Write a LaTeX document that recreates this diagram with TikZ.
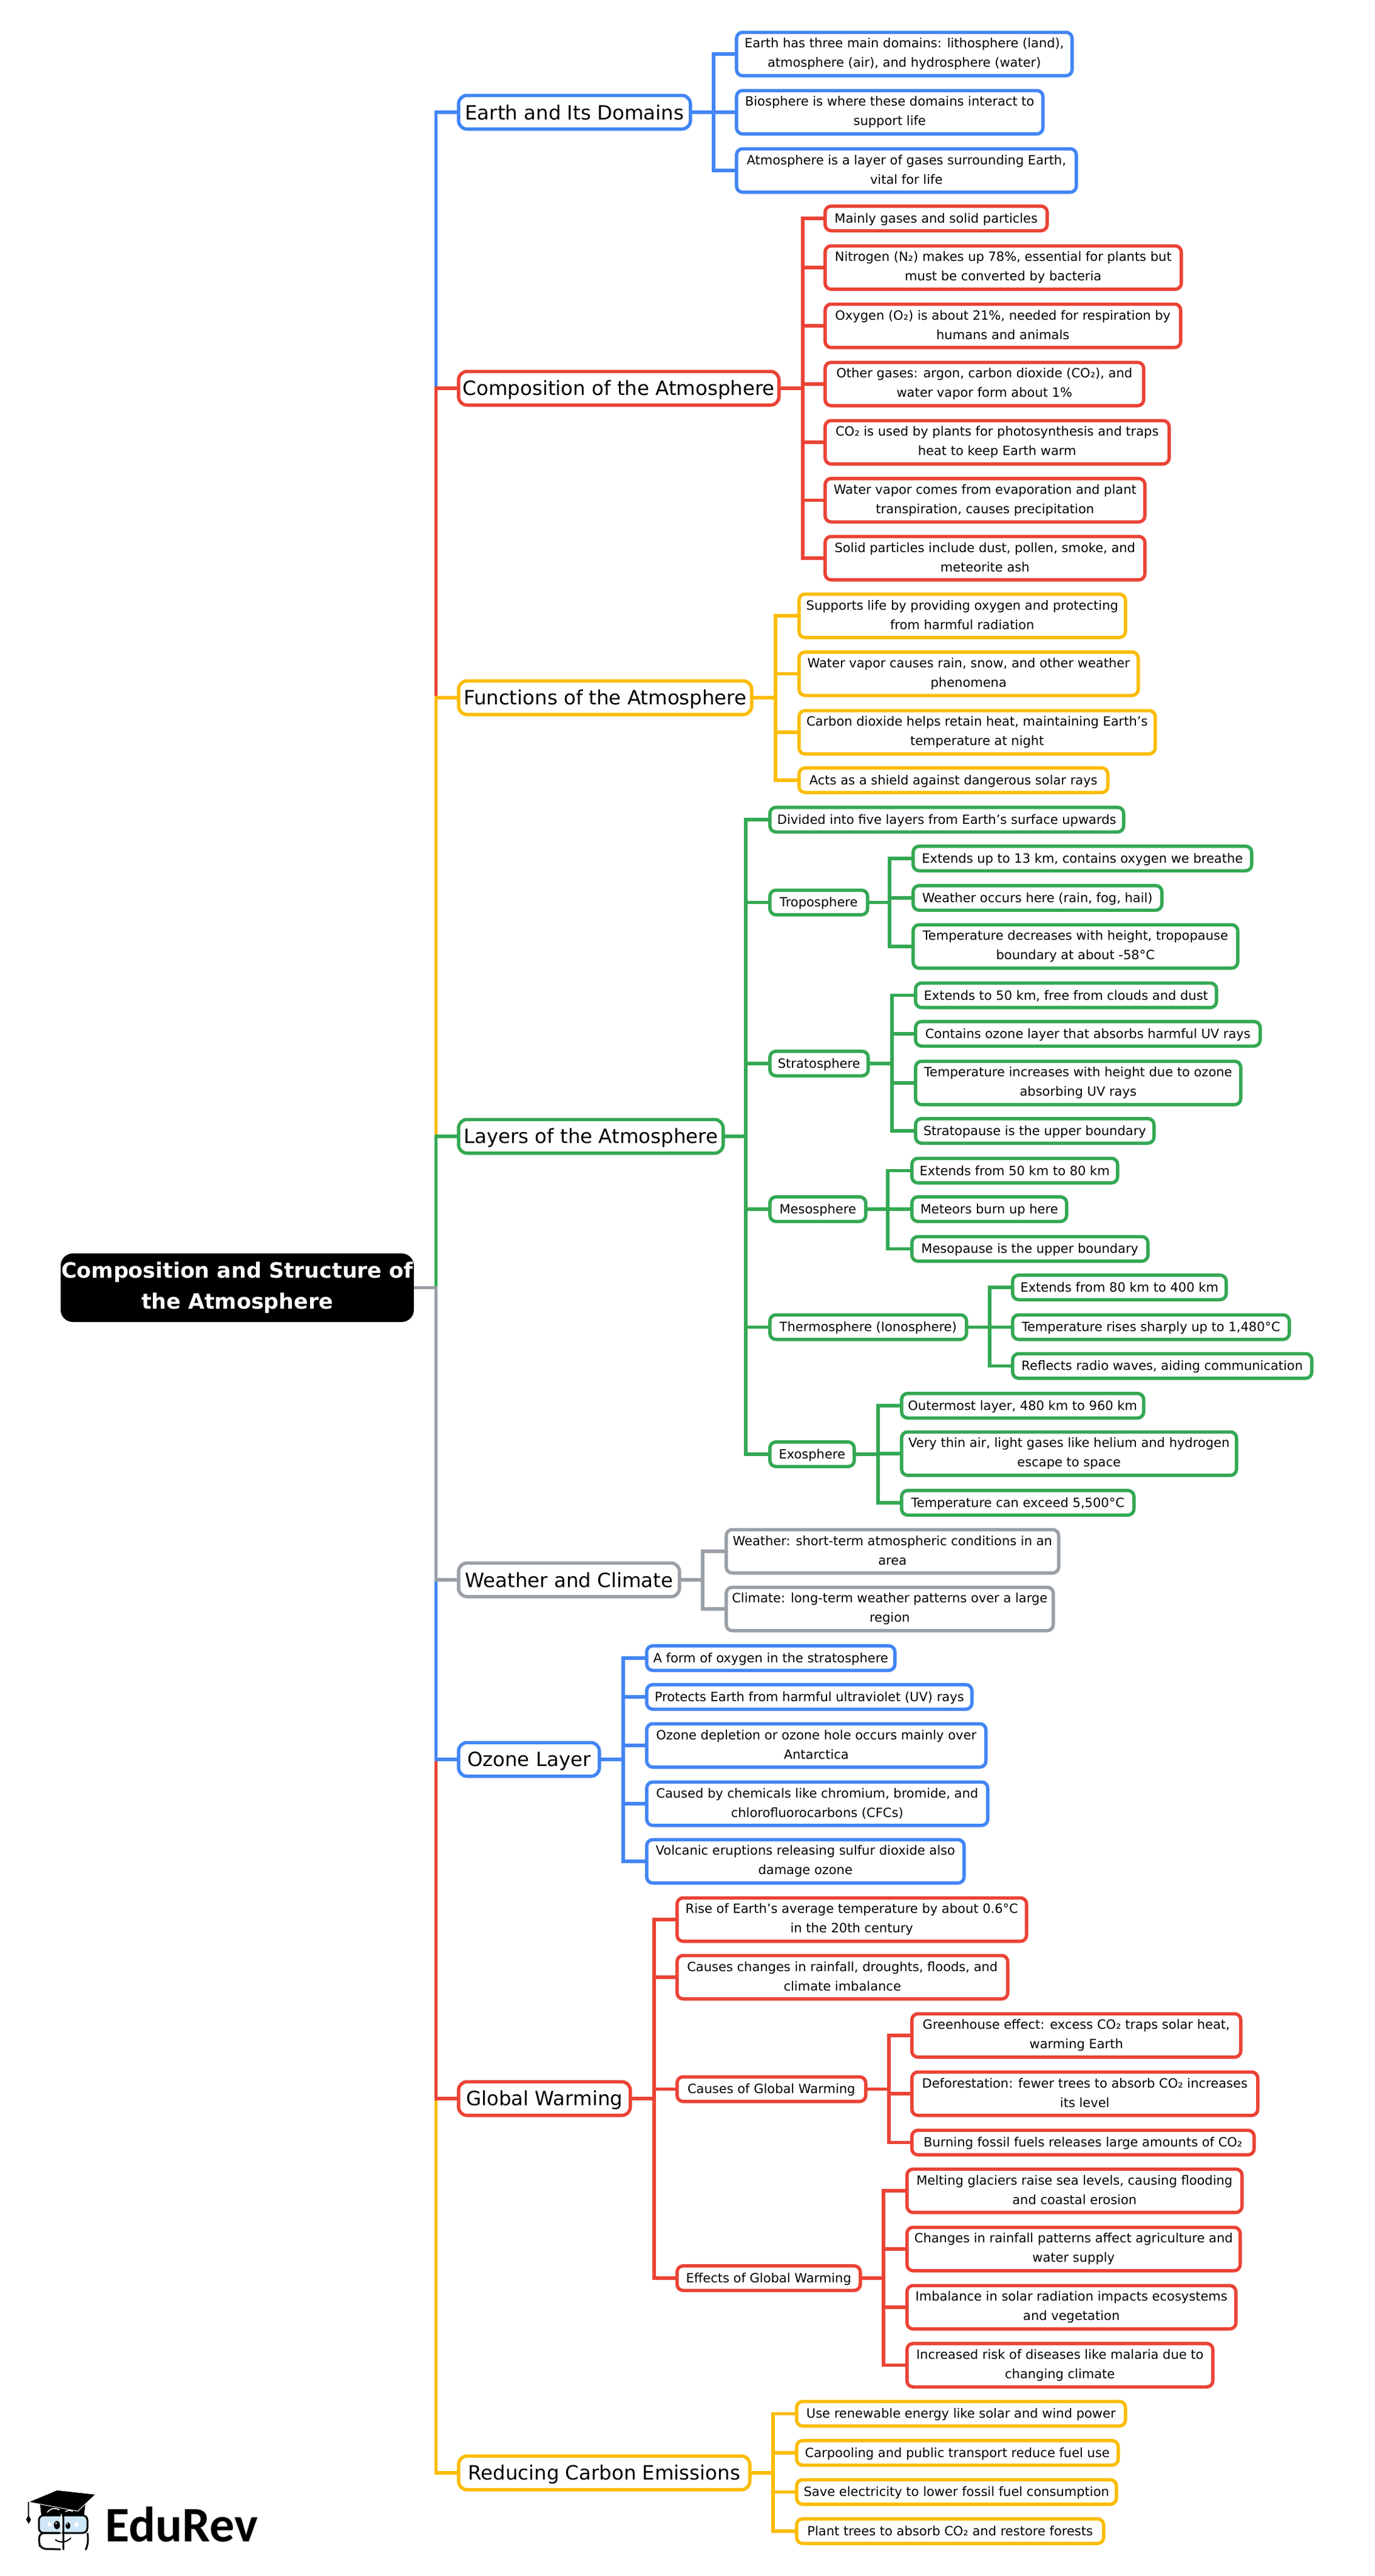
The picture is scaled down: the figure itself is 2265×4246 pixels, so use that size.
\documentclass[tikz,border=0pt]{standalone}
\usepackage{fontspec}
\setmainfont{DejaVu Sans}
\newfontfamily\logofont{Carlito}
\definecolor{cblue}{HTML}{4285F4}
\definecolor{cred}{HTML}{EA4335}
\definecolor{cyel}{HTML}{FBBC04}
\definecolor{cgrn}{HTML}{34A853}
\definecolor{cgry}{HTML}{9AA0A6}
\definecolor{lens}{HTML}{CFE8F7}
\newcommand{\upstrut}{\vrule width 0pt height .9em depth .15em\relax}
\tikzset{
  basebox/.style={draw,fill=white,line width=2.75pt,inner sep=0pt,outer sep=0pt,align=center,text=black,
     execute at begin node=\upstrut,execute at end node=\upstrut},
  topbox/.style={basebox,rounded corners=7pt,minimum height=27.75pt,font=\fontsize{16.2}{23}\selectfont},
  onebox/.style={basebox,rounded corners=5pt,minimum height=20.25pt,font=\fontsize{10.5}{16}\selectfont},
  twobox/.style={basebox,rounded corners=5pt,minimum height=35.75pt,font=\fontsize{10.5}{16}\selectfont},
  rootbox/.style={fill=black,text=white,rounded corners=10pt,inner sep=0pt,outer sep=0pt,align=center,
     font=\fontsize{17.4}{25.85}\selectfont\bfseries,execute at begin node=\upstrut,execute at end node=\upstrut},
  conn/.style={line width=2.75pt,line join=miter}
}
\newcommand{\bx}[7]{%
  \pgfmathsetmacro{\bxw}{(#5-#4-1)*0.5}%
  \pgfmathsetmacro{\bxc}{(#4+#5+0.5)/2}%
  \node[#3,draw=#2,minimum width=\bxw pt] (#1) at (\bxc,#6) {#7};}
\newcommand{\cn}[4]{\draw[conn,#1] (#2.east) -- (#3,0 |- #2.east) |- (#4.west);}
\begin{document}
\begin{tikzpicture}[x=0.5pt,y=-0.5pt]
\useasboundingbox (0,0) rectangle (2265,4246);
\fill[white] (0,0) rectangle (2265,4246);

% root
\node[rootbox,minimum width=291pt,minimum height=56.5pt] (root) at (391,2122.5) {Composition and Structure of\\the Atmosphere};

% level 1
\bx{earth}{cblue}{topbox}{755}{1138}{185}{Earth and Its Domains}
\bx{comp}{cred}{topbox}{755}{1284}{640}{Composition of the Atmosphere}
\bx{func}{cyel}{topbox}{755}{1239}{1150}{Functions of the Atmosphere}
\bx{layers}{cgrn}{topbox}{755}{1192}{1873}{Layers of the Atmosphere}
\bx{wc}{cgry}{topbox}{755}{1120}{2604}{Weather and Climate}
\bx{ozone}{cblue}{topbox}{755}{988}{2900}{Ozone Layer}
\bx{gw}{cred}{topbox}{755}{1039}{3459}{Global Warming}
\bx{rce}{cyel}{topbox}{755}{1236}{4076}{Reducing Carbon Emissions}

% root connectors
\coordinate (trunk) at (718.5,2122.5);
\draw[conn,cblue] (root.east) -- (trunk) |- (earth.west);
\draw[conn,cred] (root.east) -- (trunk) |- (comp.west);
\draw[conn,cyel] (root.east) -- (trunk) |- (func.west);
\draw[conn,cgrn] (root.east) -- (trunk) |- (layers.west);
\draw[conn,cyel] (root.east) -- (trunk) |- (rce.west);
\draw[conn,cred] (root.east) -- (trunk) |- (gw.west);
\draw[conn,cblue] (root.east) -- (trunk) |- (ozone.west);
\draw[conn,cgry] (root.east) -- (trunk) |- (wc.west);

% Earth
\bx{e1}{cblue}{twobox}{1213}{1767}{89}{Earth has three main domains: lithosphere (land),\\atmosphere (air), and hydrosphere (water)}
\bx{e2}{cblue}{twobox}{1213}{1719}{185}{Biosphere is where these domains interact to\\support life}
\bx{e3}{cblue}{twobox}{1213}{1774}{281}{Atmosphere is a layer of gases surrounding Earth,\\vital for life}
\cn{cblue}{earth}{1176}{e1}\cn{cblue}{earth}{1176}{e2}\cn{cblue}{earth}{1176}{e3}

% Composition
\bx{c1}{cred}{onebox}{1359}{1726}{360}{Mainly gases and solid particles}
\bx{c2}{cred}{twobox}{1359}{1947}{441}{Nitrogen (N₂) makes up 78\%, essential for plants but\\must be converted by bacteria}
\bx{c3}{cred}{twobox}{1359}{1946}{537}{Oxygen (O₂) is about 21\%, needed for respiration by\\humans and animals}
\bx{c4}{cred}{twobox}{1359}{1885}{633}{Other gases: argon, carbon dioxide (CO₂), and\\water vapor form about 1\%}
\bx{c5}{cred}{twobox}{1359}{1927}{729}{CO₂ is used by plants for photosynthesis and traps\\heat to keep Earth warm}
\bx{c6}{cred}{twobox}{1359}{1887}{824.5}{Water vapor comes from evaporation and plant\\transpiration, causes precipitation}
\bx{c7}{cred}{twobox}{1359}{1887}{920}{Solid particles include dust, pollen, smoke, and\\meteorite ash}
\cn{cred}{comp}{1323}{c1}\cn{cred}{comp}{1323}{c2}\cn{cred}{comp}{1323}{c3}\cn{cred}{comp}{1323}{c4}\cn{cred}{comp}{1323}{c5}\cn{cred}{comp}{1323}{c6}\cn{cred}{comp}{1323}{c7}

% Functions
\bx{f1}{cyel}{twobox}{1316}{1855}{1015}{Supports life by providing oxygen and protecting\\from harmful radiation}
\bx{f2}{cyel}{twobox}{1316}{1876}{1110.5}{Water vapor causes rain, snow, and other weather\\phenomena}
\bx{f3}{cyel}{twobox}{1316}{1904}{1207}{Carbon dioxide helps retain heat, maintaining Earth's\\temperature at night}
\bx{f4}{cyel}{onebox}{1316}{1826}{1286}{Acts as a shield against dangerous solar rays}
\cn{cyel}{func}{1278}{f1}\cn{cyel}{func}{1278}{f2}\cn{cyel}{func}{1278}{f3}\cn{cyel}{func}{1278}{f4}

% Layers
\bx{l1}{cgrn}{onebox}{1268}{1852}{1351}{Divided into five layers from Earth's surface upwards}
\bx{tropo}{cgrn}{onebox}{1268}{1430}{1487.5}{Troposphere}
\bx{strato}{cgrn}{onebox}{1268}{1431}{1753}{Stratosphere}
\bx{meso}{cgrn}{onebox}{1268}{1427}{1993}{Mesosphere}
\bx{thermo}{cgrn}{onebox}{1268}{1593}{2187.5}{Thermosphere (Ionosphere)}
\bx{exo}{cgrn}{onebox}{1268}{1408}{2397}{Exosphere}
\cn{cgrn}{layers}{1229}{l1}\cn{cgrn}{layers}{1229}{tropo}\cn{cgrn}{layers}{1229}{strato}\cn{cgrn}{layers}{1229}{meso}\cn{cgrn}{layers}{1229}{thermo}\cn{cgrn}{layers}{1229}{exo}

\bx{t1}{cgrn}{onebox}{1504}{2063}{1415}{Extends up to 13 km, contains oxygen we breathe}
\bx{t2}{cgrn}{onebox}{1504}{1915}{1480}{Weather occurs here (rain, fog, hail)}
\bx{t3}{cgrn}{twobox}{1504}{2040}{1560}{Temperature decreases with height, tropopause\\boundary at about -58°C}
\cn{cgrn}{tropo}{1466}{t1}\cn{cgrn}{tropo}{1466}{t2}\cn{cgrn}{tropo}{1466}{t3}

\bx{s1}{cgrn}{onebox}{1508}{2005}{1640.5}{Extends to 50 km, free from clouds and dust}
\bx{s2}{cgrn}{onebox}{1508}{2077}{1704}{Contains ozone layer that absorbs harmful UV rays}
\bx{s3}{cgrn}{twobox}{1508}{2045}{1785}{Temperature increases with height due to ozone\\absorbing UV rays}
\bx{s4}{cgrn}{onebox}{1508}{1902}{1864}{Stratopause is the upper boundary}
\cn{cgrn}{strato}{1470}{s1}\cn{cgrn}{strato}{1470}{s2}\cn{cgrn}{strato}{1470}{s3}\cn{cgrn}{strato}{1470}{s4}

\bx{m1}{cgrn}{onebox}{1502}{1842}{1929.5}{Extends from 50 km to 80 km}
\bx{m2}{cgrn}{onebox}{1502}{1758}{1993}{Meteors burn up here}
\bx{m3}{cgrn}{onebox}{1502}{1892}{2058.5}{Mesopause is the upper boundary}
\cn{cgrn}{meso}{1463}{m1}\cn{cgrn}{meso}{1463}{m2}\cn{cgrn}{meso}{1463}{m3}

\bx{th1}{cgrn}{onebox}{1668}{2021}{2122}{Extends from 80 km to 400 km}
\bx{th2}{cgrn}{onebox}{1668}{2125}{2187.5}{Temperature rises sharply up to 1,480°C}
\bx{th3}{cgrn}{onebox}{1668}{2162}{2251.5}{Reflects radio waves, aiding communication}
\cn{cgrn}{thermo}{1631}{th1}\cn{cgrn}{thermo}{1631}{th2}\cn{cgrn}{thermo}{1631}{th3}

\bx{x1}{cgrn}{onebox}{1485}{1885}{2317}{Outermost layer, 480 km to 960 km}
\bx{x2}{cgrn}{twobox}{1485}{2038}{2396}{Very thin air, light gases like helium and hydrogen\\escape to space}
\bx{x3}{cgrn}{onebox}{1485}{1869}{2477}{Temperature can exceed 5,500°C}
\cn{cgrn}{exo}{1447}{x1}\cn{cgrn}{exo}{1447}{x2}\cn{cgrn}{exo}{1447}{x3}

% Weather
\bx{w1}{cgry}{twobox}{1196}{1745}{2557}{Weather: short-term atmospheric conditions in an\\area}
\bx{w2}{cgry}{twobox}{1196}{1736}{2652}{Climate: long-term weather patterns over a large\\region}
\cn{cgry}{wc}{1158}{w1}\cn{cgry}{wc}{1158}{w2}

% Ozone
\bx{o1}{cblue}{onebox}{1065}{1475}{2733}{A form of oxygen in the stratosphere}
\bx{o2}{cblue}{onebox}{1065}{1602}{2797}{Protects Earth from harmful ultraviolet (UV) rays}
\bx{o3}{cblue}{twobox}{1065}{1625}{2877}{Ozone depletion or ozone hole occurs mainly over\\Antarctica}
\bx{o4}{cblue}{twobox}{1065}{1628}{2973}{Caused by chemicals like chromium, bromide, and\\chlorofluorocarbons (CFCs)}
\bx{o5}{cblue}{twobox}{1065}{1589}{3068}{Volcanic eruptions releasing sulfur dioxide also\\damage ozone}
\cn{cblue}{ozone}{1027}{o1}\cn{cblue}{ozone}{1027}{o2}\cn{cblue}{ozone}{1027}{o3}\cn{cblue}{ozone}{1027}{o4}\cn{cblue}{ozone}{1027}{o5}

% Global warming
\bx{g1}{cred}{twobox}{1115}{1692}{3164}{Rise of Earth's average temperature by about 0.6°C\\in the 20th century}
\bx{g2}{cred}{twobox}{1115}{1661}{3259}{Causes changes in rainfall, droughts, floods, and\\climate imbalance}
\bx{gc}{cred}{onebox}{1115}{1427}{3443.5}{Causes of Global Warming}
\bx{ge}{cred}{onebox}{1115}{1418}{3755}{Effects of Global Warming}
\cn{cred}{gw}{1078}{g1}\cn{cred}{gw}{1078}{g2}\cn{cred}{gw}{1078}{gc}\cn{cred}{gw}{1078}{ge}

\bx{gc1}{cred}{twobox}{1502}{2045}{3355}{Greenhouse effect: excess CO₂ traps solar heat,\\warming Earth}
\bx{gc2}{cred}{twobox}{1502}{2073}{3451}{Deforestation: fewer trees to absorb CO₂ increases\\its level}
\bx{gc3}{cred}{onebox}{1502}{2067}{3531.5}{Burning fossil fuels releases large amounts of CO₂}
\cn{cred}{gc}{1465}{gc1}\cn{cred}{gc}{1465}{gc2}\cn{cred}{gc}{1465}{gc3}

\bx{ge1}{cred}{twobox}{1494}{2047}{3611}{Melting glaciers raise sea levels, causing flooding\\and coastal erosion}
\bx{ge2}{cred}{twobox}{1494}{2044}{3707}{Changes in rainfall patterns affect agriculture and\\water supply}
\bx{ge3}{cred}{twobox}{1494}{2037}{3803}{Imbalance in solar radiation impacts ecosystems\\and vegetation}
\bx{ge4}{cred}{twobox}{1494}{1999}{3898.5}{Increased risk of diseases like malaria due to\\changing climate}
\cn{cred}{ge}{1456}{ge1}\cn{cred}{ge}{1456}{ge2}\cn{cred}{ge}{1456}{ge3}\cn{cred}{ge}{1456}{ge4}

% Reducing
\bx{r1}{cyel}{onebox}{1312}{1855}{3978.5}{Use renewable energy like solar and wind power}
\bx{r2}{cyel}{onebox}{1312}{1843}{4043}{Carpooling and public transport reduce fuel use}
\bx{r3}{cyel}{onebox}{1312}{1840}{4107.5}{Save electricity to lower fossil fuel consumption}
\bx{r4}{cyel}{onebox}{1312}{1819}{4172}{Plant trees to absorb CO₂ and restore forests}
\cn{cyel}{rce}{1274}{r1}\cn{cyel}{rce}{1274}{r2}\cn{cyel}{rce}{1274}{r3}\cn{cyel}{rce}{1274}{r4}

% logo
\fill[black] (65.8,4126.7) -- (68,4146) -- (138.5,4146) -- (140.8,4126.7) -- cycle;
\draw[white,line width=.8pt] (78,4141) .. controls (83,4134) and (90,4133) .. (98,4137);
\draw[white,line width=.8pt] (108,4140) .. controls (112,4137) and (117,4137) .. (120,4140);
\fill[black,draw=white,line width=.5pt] (46.7,4124) -- (93.8,4104.3) -- (157.7,4111.3) -- (128.2,4139) -- cycle;
\draw[black,line width=.9pt] (46.7,4124) -- (46.7,4146);
\fill[black] (47,4145) -- (51,4153) -- (47.5,4160) -- (43,4153) -- cycle;
\draw[black,fill=lens,line width=1.5pt,rounded corners=4pt] (64,4146) rectangle (144,4175);
\draw[black,line width=1.5pt,rounded corners=4pt] (97,4175) -- (65,4175) -- (64,4190) -- (67,4201) -- (100,4202);
\draw[black,line width=1.5pt] (144,4175) .. controls (146,4185) and (145,4195) .. (141,4203);
\draw[white,line width=1.2pt] (101,4144) -- (101,4203);
\draw[black,line width=1.5pt] (104,4144) -- (104,4203);
\fill[black] (93.8,4162) ellipse [x radius=5,y radius=6.8];
\fill[black] (112,4163) ellipse [x radius=4,y radius=5.5];
\fill[white] (92.5,4159) circle [radius=1.5];
\fill[white] (111,4160) circle [radius=1.3];
\fill[white] (78.5,4158) rectangle (84.5,4164);
\fill[white] (122.5,4158) rectangle (129,4164);
\draw[black,line width=1pt] (91,4186) .. controls (97,4191) and (109,4192) .. (117,4183);
\node[font=\logofont\fontsize{41}{41}\selectfont\bfseries,inner sep=0pt,anchor=base west] (brand) at (173,4189) {EduRev};
\end{tikzpicture}
\end{document}
